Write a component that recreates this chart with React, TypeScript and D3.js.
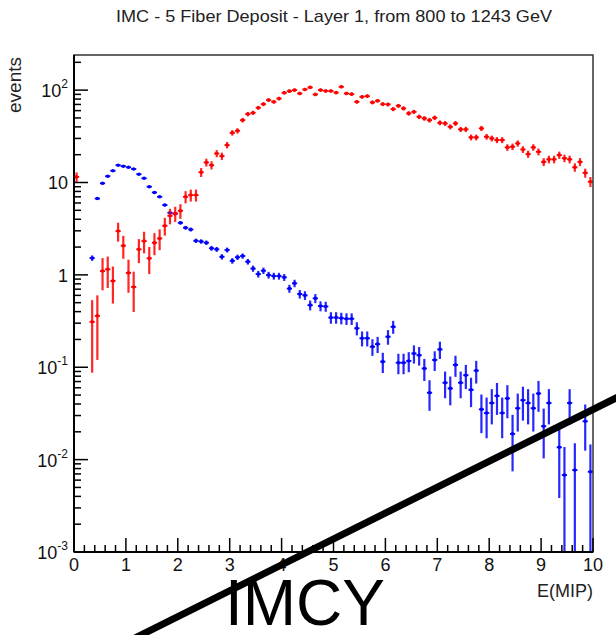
import React from "react";
import * as d3 from "d3";

const width = 616;
const height = 635;
const frame = { left: 74, right: 593, top: 55, bottom: 552 };
const font = "'Liberation Sans', Arial, Helvetica, sans-serif";

const title = "IMC - 5 Fiber Deposit - Layer 1, from 800 to 1243 GeV";
const xTitle = "E(MIP)";
const yTitle = "events";

// histogram: 100 bins of 0.1 MIP between 0 and 10
const xMin = 0;
const xMax = 10;
const binWidth = 0.1;

// y axis: log scale
const yMin = 1e-3;
const yMax = 240;
const yDecades = [1e-3, 1e-2, 1e-1, 1, 10, 100];
const yTickBase = ["10", "10", "10", "1", "10", "10"];
const yTickExp = ["-3", "-2", "-1", "", "", "2"];
const xTickLabels = ["0", "1", "2", "3", "4", "5", "6", "7", "8", "9", "10"];

// per-event weights (sets the size of the sqrt(sum w^2) error bars)
const redWeight = 0.16;
const blueWeight = 0.007;

// red histogram, bin contents
const redValues = [
  11.5, 0, 0, 0.31, 0.36, 1.1, 1.15, 0.86, 2.98, 2.07,
  1.05, 0.74, 1.89, 2.32, 1.51, 2.23, 2.48, 3.4, 4.36, 4.6,
  4.94, 7.0, 7.3, 7.3, 12.9, 16.5, 15.4, 20.6, 19.3, 25.4,
  34.5, 36.3, 47.3, 55, 56.8, 64.4, 70.5, 78, 74.7, 81,
  93.5, 97.5, 100, 92, 101.7, 107, 89.8, 100, 98, 98,
  94, 108.6, 92, 90.5, 74.7, 84.6, 86, 73.6, 76.6, 70.5,
  70, 62.3, 67.6, 63.4, 56, 58.2, 51.4, 49.4, 47.3, 50.2,
  44.3, 43.6, 40.1, 43.6, 37.6, 37.6, 30.8, 30.8, 38.5, 31.3,
  30, 28.8, 28.8, 24, 24.4, 26.5, 22.8, 20.3, 24, 21.5,
  16.7, 17.8, 17.8, 19.8, 18.3, 17.8, 14.6, 16.7, 12.7, 10.2
];

// blue histogram, bin contents
const blueValues = [
  0, 0, 0, 1.52, 6.7, 9.8, 11.7, 13.4, 15.4, 15.0,
  14.6, 14.0, 12.3, 11.1, 9.0, 7.8, 7.0, 5.7, 4.7, 4.6,
  3.66, 3.24, 3.1, 2.34, 2.3, 2.23, 1.94, 1.89, 1.57, 1.86,
  1.42, 1.55, 1.6, 1.39, 1.17, 1.02, 1.11, 0.995, 0.97, 0.97,
  0.94, 0.71, 0.81, 0.62, 0.6, 0.47, 0.557, 0.46, 0.455, 0.345,
  0.345, 0.34, 0.335, 0.335, 0.264, 0.206, 0.206, 0.167, 0.178, 0.115,
  0.214, 0.274, 0.112, 0.112, 0.117, 0.141, 0.135, 0.097, 0.053, 0.12,
  0.156, 0.068, 0.059, 0.106, 0.068, 0.082, 0.057, 0.092, 0.035, 0.032,
  0.041, 0.049, 0.032, 0.046, 0.019, 0.036, 0.044, 0.041, 0.036, 0.052,
  0.023, 0.041, 0, 0.0136, 0.0068, 0.041, 0.0077, 0, 0.026, 0.0074
];

const xScale = d3.scaleLinear().domain([xMin, xMax]).range([frame.left, frame.right]);
const yScale = d3.scaleLog().domain([yMin, yMax]).range([frame.bottom, frame.top]);

function Histo({ values, weight, color }: { values: number[]; weight: number; color: string }) {
  return (
    <g stroke={color} fill={color}>
      {values.map((v, i) => {
        if (v <= 0) return null;
        const err = Math.sqrt(v * weight);
        const x0 = xScale(xMin + i * binWidth);
        const x1 = xScale(xMin + (i + 1) * binWidth);
        const xc = (x0 + x1) / 2;
        const yc = yScale(v);
        const yHi = yScale(v + err);
        const yLo = yScale(Math.max(v - err, yMin / 10));
        return (
          <g key={i}>
            <line x1={xc} x2={xc} y1={yHi} y2={yLo} strokeWidth={2.2} strokeOpacity={0.85} />
            <line x1={x0} x2={x1} y1={yc} y2={yc} strokeWidth={1.8} />
            <circle cx={xc} cy={yc} r={1.8} stroke="none" />
          </g>
        );
      })}
    </g>
  );
}

export default function App() {
  const xMajor = d3.range(xMin, xMax + 0.001, 1);
  const xMinor = d3.range(xMin, xMax + 0.001, 0.2).filter(v => Math.abs(v - Math.round(v)) > 1e-6);
  const yMinor: number[] = [];
  for (let e = -3; e <= 2; e++) {
    for (let m = 2; m <= 9; m++) {
      const v = m * Math.pow(10, e);
      if (v < yMax) yMinor.push(v);
    }
  }

  return (
    <svg
      width={width}
      height={height}
      style={{ position: "absolute", left: 0, top: 0, background: "#fff" }}
      fontFamily={font}
    >
      <rect width={width} height={height} fill="#fff" />
      <defs>
        <clipPath id="plotClip">
          <rect x={frame.left} y={frame.top} width={frame.right - frame.left} height={frame.bottom - frame.top} />
        </clipPath>
      </defs>

      <text x={334} y={22} textAnchor="middle" fontSize={17} fill="#222" textLength={436} lengthAdjust="spacingAndGlyphs">
        {title}
      </text>

      <g clipPath="url(#plotClip)">
        <Histo values={blueValues} weight={blueWeight} color="#0000ff" />
        <Histo values={redValues} weight={redWeight} color="#ff0000" />
      </g>

      {/* frame */}
      <rect
        x={frame.left}
        y={frame.top}
        width={frame.right - frame.left}
        height={frame.bottom - frame.top}
        fill="none"
        stroke="#333"
        strokeWidth={1.5}
      />

      {/* x axis */}
      <g stroke="#000" strokeWidth={1.5}>
        <line x1={frame.left} x2={frame.right} y1={frame.bottom} y2={frame.bottom} strokeWidth={2} />
        {xMajor.map(v => (
          <line key={"M" + v} x1={xScale(v)} x2={xScale(v)} y1={frame.bottom} y2={frame.bottom - 14} />
        ))}
        {xMinor.map(v => (
          <line key={"m" + v} x1={xScale(v)} x2={xScale(v)} y1={frame.bottom} y2={frame.bottom - 7} />
        ))}
      </g>
      {xMajor.map((v, i) => (
        <text key={"xl" + i} x={xScale(v)} y={frame.bottom + 19} textAnchor="middle" fontSize={18} fill="#111">
          {xTickLabels[i]}
        </text>
      ))}
      <text x={frame.right} y={frame.bottom + 45} textAnchor="end" fontSize={18} fill="#222">{xTitle}</text>

      {/* y axis */}
      <g stroke="#000" strokeWidth={1.5}>
        <line x1={frame.left} x2={frame.left} y1={frame.top} y2={frame.bottom} strokeWidth={2} />
        {yDecades.map(v => (
          <line key={"M" + v} x1={frame.left} x2={frame.left + 14} y1={yScale(v)} y2={yScale(v)} />
        ))}
        {yMinor.map(v => (
          <line key={"m" + v} x1={frame.left} x2={frame.left + 7} y1={yScale(v)} y2={yScale(v)} />
        ))}
      </g>
      {yDecades.map((v, i) => (
        <text key={"yl" + i} x={frame.left - 6} y={yScale(v) + 7} textAnchor="end" fontSize={18} fill="#111">
          {yTickBase[i]}
          {yTickExp[i] && (
            <tspan dy={-9} fontSize={12}>{yTickExp[i]}</tspan>
          )}
        </text>
      ))}
      <text
        transform={`translate(21, ${frame.top + 2}) rotate(-90)`}
        textAnchor="end"
        fontSize={19}
        fill="#222"
      >
        {yTitle}
      </text>

      {/* overlay annotation */}
      <line x1={131} y1={640} x2={620} y2={396} stroke="#000" strokeWidth={7} />
      <text x={225} y={625} fontSize={64} fill="#000">IMCY</text>
    </svg>
  );
}
